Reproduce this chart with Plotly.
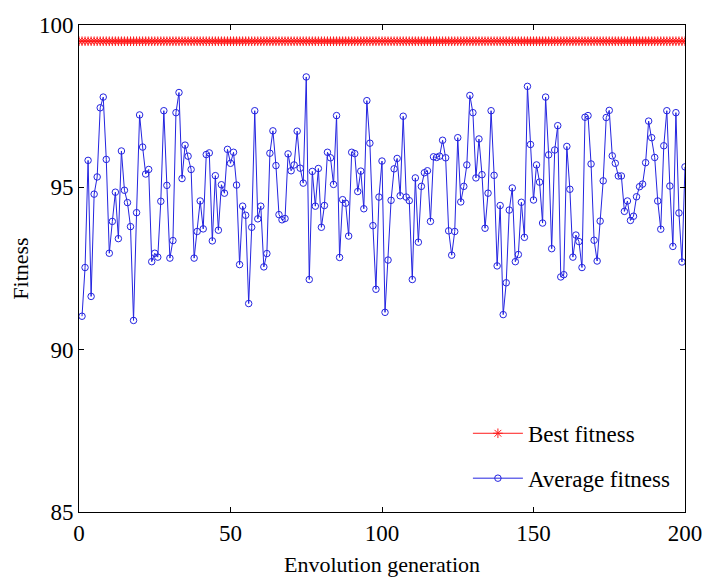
import plotly.graph_objects as go

# Generations
best_gen = list(range(0, 201))
avg_gen = list(range(1, 201))

# Best fitness stays constant across all generations
best_fitness = [99.5] * len(best_gen)

# Average fitness per generation (1..200)
avg_fitness = [
    91.03, 92.53, 95.83, 91.64, 94.79, 95.32, 97.45, 97.78, 95.86, 92.97,
    93.95, 94.85, 93.42, 96.12, 94.91, 94.53, 93.79, 90.90, 94.22, 97.23,
    96.24, 95.41, 95.55, 92.71, 92.97, 92.85, 94.57, 97.36, 95.06, 92.82,
    93.36, 97.30, 97.92, 95.27, 96.30, 95.96, 95.55, 92.82, 93.64, 94.58,
    93.72, 96.01, 96.06, 93.35, 95.36, 93.68, 95.08, 94.82, 96.17, 95.74,
    96.08, 95.07, 92.62, 94.42, 94.14, 91.42, 93.77, 97.36, 94.03, 94.42,
    92.55, 92.96, 96.05, 96.74, 95.67, 94.16, 94.00, 94.04, 96.03, 95.51,
    95.69, 96.73, 95.59, 95.13, 98.40, 92.16, 95.49, 94.42, 95.58, 93.77,
    94.44, 96.08, 95.91, 95.09, 97.21, 92.84, 94.62, 94.51, 93.50, 96.08,
    96.04, 94.87, 95.50, 94.34, 97.67, 96.36, 93.82, 91.86, 94.70, 95.81,
    91.15, 92.76, 94.60, 95.57, 95.89, 94.74, 97.19, 94.70, 94.59, 92.16,
    95.29, 93.31, 95.03, 95.45, 95.51, 93.95, 95.94, 95.92, 95.96, 96.45,
    95.91, 93.66, 92.91, 93.64, 96.53, 94.55, 95.03, 95.69, 97.83, 97.30,
    95.29, 96.49, 95.39, 93.74, 94.82, 97.36, 95.37, 92.58, 94.44, 91.08,
    92.06, 94.30, 94.98, 92.71, 92.93, 94.54, 93.46, 98.11, 96.32, 94.61,
    95.69, 95.16, 93.90, 97.78, 96.00, 93.11, 96.15, 96.90, 92.24, 92.31,
    96.26, 94.94, 92.85, 93.53, 93.33, 92.53, 97.16, 97.21, 95.72, 93.37,
    92.73, 93.96, 95.20, 97.15, 97.37, 95.97, 95.74, 95.35, 95.35, 94.26,
    94.58, 93.98, 94.11, 94.71, 95.02, 95.10, 95.76, 97.04, 96.53, 95.92,
    94.58, 93.71, 96.28, 97.36, 95.04, 93.18, 97.30, 94.21, 92.70, 95.63,
]

x_ticks = [0, 50, 100, 150, 200]
y_ticks = [85, 90, 95, 100]

FONT = "Liberation Serif"
BLUE = "#2424e0"
RED = "#ff1a1a"

fig = go.Figure()

fig.add_trace(go.Scatter(
    x=best_gen, y=best_fitness, mode="lines+markers", name="Best fitness",
    legendgroup="best",
    line=dict(color=RED, width=1),
    marker=dict(symbol="asterisk-open", size=8, color=RED,
                line=dict(color=RED, width=1)),
))

fig.add_trace(go.Scatter(
    x=avg_gen, y=avg_fitness, mode="lines+markers", name="Average fitness",
    legendgroup="avg",
    line=dict(color=BLUE, width=1),
    marker=dict(symbol="circle-open", size=6.5, color=BLUE,
                line=dict(color=BLUE, width=1)),
))

axis_common = dict(
    showgrid=False, zeroline=False, showline=True, linecolor="black",
    linewidth=1, mirror="ticks", ticks="inside", ticklen=5,
    tickcolor="black", tickfont=dict(family=FONT, size=23, color="black"),
    automargin=False,
)

fig.update_xaxes(
    range=[0, 200], tickvals=x_ticks,
    title=dict(text="Envolution generation",
               font=dict(family=FONT, size=22, color="black"), standoff=12),
    **axis_common,
)
fig.update_yaxes(
    range=[85, 100], tickvals=y_ticks,
    title=dict(text="Fitness",
               font=dict(family=FONT, size=22, color="black"), standoff=4),
    **axis_common,
)

fig.update_layout(
    width=713, height=579,
    margin=dict(l=79, r=28, t=25, b=67),
    paper_bgcolor="white", plot_bgcolor="white",
    font=dict(family=FONT, size=22, color="black"),
    legend=dict(
        x=0.985, y=0.025, xanchor="right", yanchor="bottom",
        bgcolor="rgba(0,0,0,0)", borderwidth=0,
        font=dict(family=FONT, size=23, color="black"),
        tracegroupgap=12, itemwidth=50,
    ),
    showlegend=True,
)

fig.write_html("out.html")
